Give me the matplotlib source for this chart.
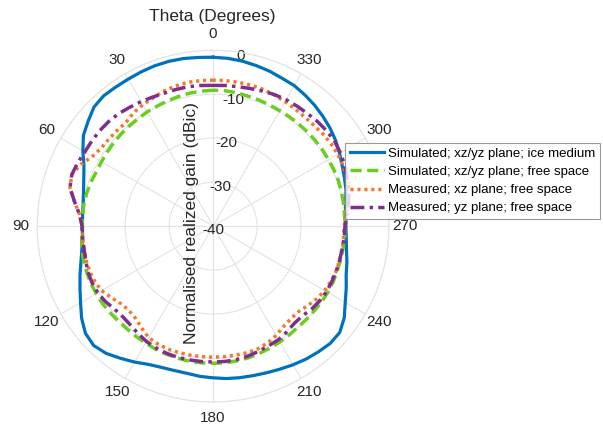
"""
Polar radiation pattern: normalised realized gain, simulated vs measured.
"""

import numpy as np
import matplotlib
matplotlib.use("Agg")
import matplotlib.pyplot as plt
from matplotlib.transforms import offset_copy

plt.rcParams["font.family"] = ["Liberation Sans", "DejaVu Sans"]

# --- data (dBic), theta in degrees, 5 deg steps, 0..360 ---
theta_deg = list(range(0, 365, 5))

sim_ice = [-1.6, -1.5, -1.3, -1.2, -1.2, -1.3, -1.4, -1.4, -1.3, -1.7,
           -2.9, -4.0, -5.8, -7.6, -8.7, -9.5, -10.0, -10.2, -10.3, -10.2,
           -9.7, -8.9, -7.8, -6.6, -5.2, -3.5, -2.1, -1.6, -2.2, -3.3,
           -4.3, -5.3, -5.8, -6.0, -6.0, -5.7, -5.5, -5.2, -5.0, -4.8,
           -4.5, -4.1, -3.6, -3.1, -2.7, -2.3, -2.4, -3.6, -5.3, -6.6,
           -7.8, -8.5, -9.2, -9.6, -9.8, -9.7, -9.4, -8.7, -8.2, -7.6,
           -6.8, -6.0, -5.3, -4.7, -4.1, -3.6, -3.1, -2.9, -2.5, -2.2,
           -1.9, -1.7, -1.6]

sim_free = [-9.1, -9.2, -9.3, -9.5, -9.7, -9.9, -10.0, -10.2, -10.3, -10.4,
            -10.5, -10.6, -10.7, -10.7, -10.5, -10.3, -10.2, -10.2, -10.2, -10.0,
            -9.7, -9.5, -9.4, -9.3, -9.3, -9.3, -9.4, -9.5, -9.5, -9.4,
            -9.3, -9.1, -9.0, -8.9, -8.8, -8.8, -8.8, -8.8, -8.9, -9.0,
            -9.2, -9.4, -9.6, -9.8, -10.0, -10.0, -10.0, -9.9, -9.9, -9.9,
            -10.0, -10.0, -10.0, -10.0, -10.0, -10.0, -9.9, -9.8, -9.7, -9.7,
            -9.7, -9.7, -9.7, -9.7, -9.7, -9.7, -9.7, -9.6, -9.5, -9.4,
            -9.2, -9.1, -9.1]

meas_xz = [-6.8, -6.8, -6.8, -7.0, -7.3, -7.8, -8.1, -8.5, -9.2, -9.2,
           -9.1, -9.0, -8.3, -6.8, -5.8, -6.3, -8.0, -9.5, -10.2, -10.2,
           -10.2, -10.1, -10.1, -10.3, -10.7, -11.7, -12.6, -12.9, -12.6, -11.7,
           -10.7, -10.4, -10.2, -10.2, -10.2, -10.2, -10.2, -10.2, -10.2, -10.2,
           -10.3, -10.7, -11.3, -12.1, -12.5, -12.5, -11.9, -11.2, -10.7, -10.4,
           -10.2, -10.2, -10.2, -10.2, -10.2, -9.7, -8.7, -8.0, -7.6, -7.4,
           -7.3, -7.3, -7.4, -7.6, -7.6, -7.5, -7.3, -7.1, -6.9, -6.8,
           -6.8, -6.8, -6.8]

meas_yz = [-8.0, -7.9, -7.8, -7.8, -7.8, -7.6, -7.3, -7.0, -6.6, -6.4,
           -6.3, -6.3, -6.3, -6.0, -5.8, -6.3, -8.0, -9.5, -10.2, -10.2,
           -10.2, -10.0, -9.7, -9.6, -9.7, -10.1, -10.7, -10.9, -10.7, -10.2,
           -9.7, -9.4, -9.2, -9.1, -9.1, -9.1, -9.1, -9.1, -9.2, -9.4,
           -9.7, -10.0, -10.2, -10.7, -11.2, -11.2, -10.7, -10.4, -10.2, -10.2,
           -10.2, -10.2, -10.2, -10.1, -10.0, -9.5, -8.7, -8.1, -7.6, -7.0,
           -6.6, -6.3, -6.3, -6.4, -6.6, -6.7, -6.8, -7.0, -7.3, -7.6,
           -7.8, -7.9, -8.0]

labels = [
    "Simulated; xz/yz plane; ice medium",
    "Simulated; xz/yz plane; free space",
    "Measured; xz plane; free space",
    "Measured; yz plane; free space",
]

r_ticks = [-40, -30, -20, -10, 0]
theta_ticks = list(range(0, 360, 30))

text_col = "#262626"
grid_col = "#e3e3e3"

fig = plt.figure(figsize=(6.03, 4.28), dpi=100)
ax = fig.add_axes([0.0614, 0.0607, 0.584, 0.822], projection="polar")
ax.set_theta_zero_location("N")
ax.set_theta_direction(1)

th = np.deg2rad(theta_deg)
ax.plot(th, sim_ice, color="#0072BD", lw=2.3, ls="-", label=labels[0])
ax.plot(th, sim_free, color="#6ACD1F", lw=2.5, ls=(0, (3.2, 1.6)), label=labels[1])
ax.plot(th, meas_xz, color="#F4772D", lw=2.5, ls=(0, (0.9, 1.1)), label=labels[2])
ax.plot(th, meas_yz, color="#7E2F8E", lw=2.5, ls=(0, (4.0, 1.5, 1.0, 1.5)), label=labels[3])

ax.set_ylim(-40, 0)
ax.set_yticks(r_ticks)
ax.set_yticklabels([])
# radial tick labels, centred just off the spoke 9 deg right of top,
# above the grid but under the curves like the original
lab_tr = offset_copy(ax.transData, fig=fig, y=-4, units="dots")
for v in r_ticks:
    ax.text(np.deg2rad(351), v, str(v), transform=lab_tr, ha="center",
            va="center", fontsize=11, color=text_col, zorder=1.8)

ax.set_xticks(np.deg2rad(theta_ticks))
ax.set_xticklabels([str(v) for v in theta_ticks], fontsize=11, color=text_col)
ax.tick_params(axis="x", pad=1)
ax.grid(True, color=grid_col, lw=0.8)
ax.spines["polar"].set_color(grid_col)
ax.spines["polar"].set_linewidth(0.8)

fig.text(0.352, 0.962, "Theta (Degrees)", ha="center", va="center",
         fontsize=12.5, color=text_col)
fig.text(0.318, 0.478, "Normalised realized gain (dBic)", ha="center",
         va="center", rotation=90, fontsize=12.5, color=text_col)

leg = fig.legend(loc="upper left", bbox_to_anchor=(0.572, 0.666),
                 fontsize=9.5, frameon=True, fancybox=False,
                 handlelength=2.6, borderaxespad=0, borderpad=0.35,
                 labelspacing=0.45, handletextpad=0.3)
leg.get_frame().set_edgecolor("#808080")
leg.get_frame().set_linewidth(0.8)

fig.savefig("out.png", dpi=100)
